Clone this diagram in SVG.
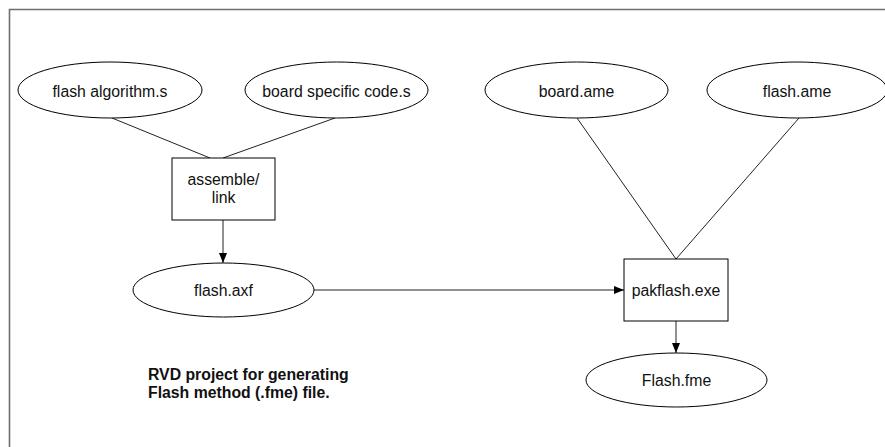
<svg xmlns="http://www.w3.org/2000/svg" width="885" height="447" viewBox="0 0 885 447">
  <style>
    .shape { fill: #ffffff; stroke: #000000; stroke-width: 1; }
    .label { font-family: "Liberation Sans", Arial, sans-serif; font-size: 15.8px; fill: #111111; text-anchor: middle; }
    .note { font-family: "Liberation Sans", Arial, sans-serif; font-size: 15.8px; font-weight: bold; fill: #111111; }
    .edge { fill: none; stroke: #222222; stroke-width: 1; }
    .frame { fill: none; stroke: #6e6e6e; stroke-width: 1.6; }
  </style>
  <defs>
    <marker id="arrow" viewBox="0 0 10 8" refX="10" refY="4" markerWidth="10" markerHeight="8" markerUnits="userSpaceOnUse" orient="auto">
      <path d="M0,0 L10,4 L0,8 Z" fill="#000000"/>
    </marker>
  </defs>

  <!-- page frame (top and left edges) -->
  <path class="frame" d="M9.5,447 V9.5 H885"/>

  <!-- connectors -->
  <g id="connectors">
    <line class="edge" x1="112" y1="118" x2="210" y2="158"/>
    <line class="edge" x1="335" y1="118" x2="223" y2="158"/>
    <line class="edge" x1="223" y1="220" x2="223" y2="263" marker-end="url(#arrow)"/>
    <line class="edge" x1="314" y1="290" x2="624" y2="290" marker-end="url(#arrow)"/>
    <line class="edge" x1="577" y1="118" x2="676" y2="259"/>
    <line class="edge" x1="799" y1="118" x2="676" y2="259"/>
    <line class="edge" x1="676" y1="321" x2="676" y2="353" marker-end="url(#arrow)"/>
  </g>

  <g id="flash-algorithm">
    <ellipse class="shape" cx="110" cy="90" rx="92" ry="28"/>
    <text class="label" x="110" y="97">flash algorithm.s</text>
  </g>

  <g id="board-specific-code">
    <ellipse class="shape" cx="336.5" cy="90" rx="91.5" ry="28"/>
    <text class="label" x="336.5" y="97">board specific code.s</text>
  </g>

  <g id="assemble-link">
    <rect class="shape" x="172" y="158" width="103" height="62"/>
    <text class="label" x="223.5" y="185">assemble/</text>
    <text class="label" x="223.5" y="203">link</text>
  </g>

  <g id="flash-axf">
    <ellipse class="shape" cx="223.5" cy="290" rx="90.5" ry="27"/>
    <text class="label" x="223.5" y="296">flash.axf</text>
  </g>

  <g id="board-ame">
    <ellipse class="shape" cx="576.5" cy="90" rx="91.5" ry="28"/>
    <text class="label" x="576.5" y="97">board.ame</text>
  </g>

  <g id="flash-ame">
    <ellipse class="shape" cx="797" cy="90" rx="90" ry="28"/>
    <text class="label" x="797" y="97">flash.ame</text>
  </g>

  <g id="pakflash">
    <rect class="shape" x="624" y="259" width="104" height="62"/>
    <text class="label" x="676" y="296">pakflash.exe</text>
  </g>

  <g id="flash-fme">
    <ellipse class="shape" cx="676.5" cy="380" rx="90.5" ry="27"/>
    <text class="label" x="676.5" y="386">Flash.fme</text>
  </g>

  <g id="caption">
    <text class="note" x="148" y="380">RVD project for generating</text>
    <text class="note" x="148" y="398">Flash method (.fme) file.</text>
  </g>
</svg>
